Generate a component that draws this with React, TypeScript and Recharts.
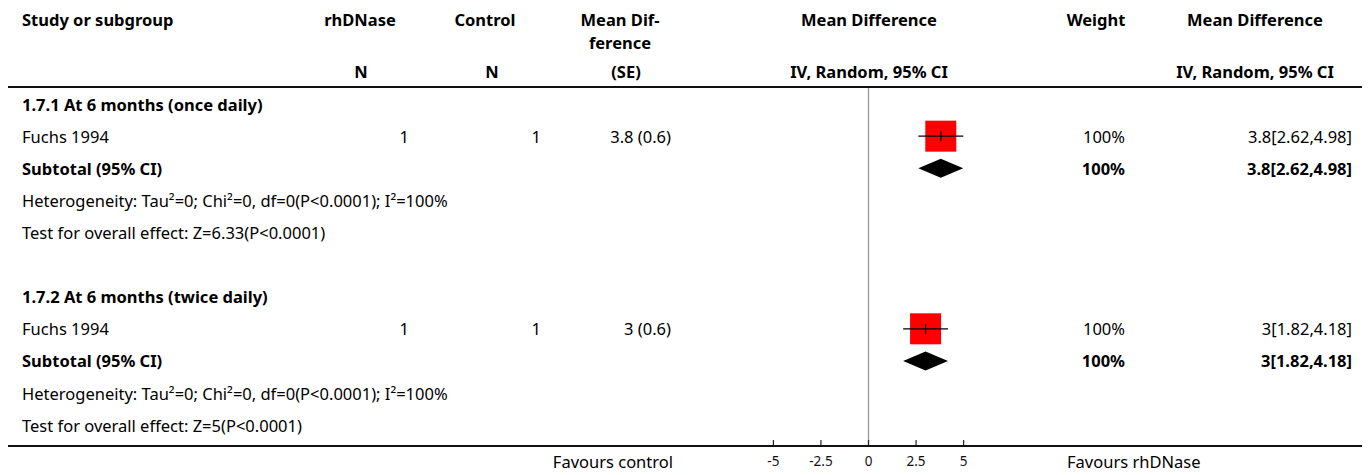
import { ScatterChart, Scatter, XAxis, YAxis, ReferenceLine } from 'recharts'

// forest plot data
const subgroups = ['1.7.1 At 6 months (once daily)', '1.7.2 At 6 months (twice daily)']
const studyNames = ['Fuchs 1994', 'Fuchs 1994']
const nTreatment = [1, 1]
const nControl = [1, 1]
const meanDiff = [3.8, 3]
const stdErr = [0.6, 0.6]
const ciLow = [2.62, 1.82]
const ciHigh = [4.98, 4.18]
const studyWeight = [100, 100]
const subtotalMean = [3.8, 3]
const subtotalLow = [2.62, 1.82]
const subtotalHigh = [4.98, 4.18]
const subtotalWeight = [100, 100]
const heterogeneity = [
  'Heterogeneity: Tau²=0; Chi²=0, df=0(P<0.0001); I²=100%',
  'Heterogeneity: Tau²=0; Chi²=0, df=0(P<0.0001); I²=100%',
]
const overallEffect = ['Test for overall effect: Z=6.33(P<0.0001)', 'Test for overall effect: Z=5(P<0.0001)']
const axisTicks = [-5, -2.5, 0, 2.5, 5]
const axisDomain = [-9.12, 9.12]

const FONT = '"Noto Sans", sans-serif'
const FS = 16.5
const ROWS_PER_GROUP = 6

type RowKind = 'group' | 'study' | 'subtotal' | 'het' | 'test'
interface TableRow {
  x: number
  y: number
  kind: RowKind
  g: number
}

const tableRows: TableRow[] = subgroups.flatMap((_, g) => {
  const base = g * ROWS_PER_GROUP
  const kinds: RowKind[] = ['group', 'study', 'subtotal', 'het', 'test']
  return kinds.map((kind, i) => ({ x: 0, y: base + i, kind, g }))
})

const studyRow = (g: number) => g * ROWS_PER_GROUP + 1
const subtotalRow = (g: number) => g * ROWS_PER_GROUP + 2

const fmtCi = (m: number, lo: number, hi: number) => `${m}[${lo},${hi}]`

function RowText(props: any) {
  const { cy, payload } = props
  const p = payload as TableRow
  const g = p.g
  const base = { fontFamily: FONT, fontSize: FS, fill: '#000', dominantBaseline: 'central' as const }
  if (p.kind === 'group') {
    return (
      <text x={22} y={cy} {...base} fontWeight={700}>
        {subgroups[g]}
      </text>
    )
  }
  if (p.kind === 'study') {
    return (
      <g>
        <text x={22} y={cy} {...base}>{studyNames[g]}</text>
        <text x={409} y={cy} {...base} textAnchor="end">{nTreatment[g]}</text>
        <text x={541} y={cy} {...base} textAnchor="end">{nControl[g]}</text>
        <text x={671} y={cy} {...base} textAnchor="end">{`${meanDiff[g]} (${stdErr[g]})`}</text>
        <text x={1125} y={cy} {...base} textAnchor="end">{`${studyWeight[g]}%`}</text>
        <text x={1352} y={cy} {...base} textAnchor="end">{fmtCi(meanDiff[g], ciLow[g], ciHigh[g])}</text>
      </g>
    )
  }
  if (p.kind === 'subtotal') {
    return (
      <g fontWeight={700}>
        <text x={22} y={cy} {...base}>Subtotal (95% CI)</text>
        <text x={1125} y={cy} {...base} textAnchor="end">{`${subtotalWeight[g]}%`}</text>
        <text x={1352} y={cy} {...base} textAnchor="end">{fmtCi(subtotalMean[g], subtotalLow[g], subtotalHigh[g])}</text>
      </g>
    )
  }
  return (
    <text x={22} y={cy} {...base}>
      {p.kind === 'het' ? heterogeneity[g] : overallEffect[g]}
    </text>
  )
}

function Square(props: any) {
  const { cx, cy } = props
  return <rect x={cx - 15.5} y={cy - 15.5} width={31} height={31} fill="#ff0000" />
}

function MidTick(props: any) {
  const { cx, cy, payload } = props
  if (!payload.mid) return <g />
  return <line x1={cx} x2={cx} y1={cy - 5} y2={cy + 5} stroke="#000" strokeWidth={1.3} />
}

const Empty = () => <g />

function DiamondLine(props: any) {
  const pts = props.points as { x: number; y: number }[]
  if (!pts || pts.length < 3) return <g />
  const [a, m, b] = pts
  const h = 9.5
  return (
    <polygon
      points={`${a.x},${a.y} ${m.x},${m.y - h} ${b.x},${b.y} ${m.x},${m.y + h}`}
      fill="#000"
      stroke="none"
    />
  )
}

function AxisTick(props: any) {
  const { x, y, payload } = props
  return (
    <g>
      <line x1={x} x2={x} y1={y - 6} y2={y} stroke="#222" strokeWidth={1.2} />
      <text x={x} y={y + 15} textAnchor="middle" dominantBaseline="central" fontFamily={FONT} fontSize={13.5} fill="#111">
        {String(payload.value)}
      </text>
    </g>
  )
}

const headStyle: React.CSSProperties = {
  position: 'absolute',
  fontWeight: 700,
  fontSize: FS,
  lineHeight: '20px',
  whiteSpace: 'nowrap',
  color: '#000',
}

function Head({ cx, y, text, left }: { cx?: number; y: number; text: string; left?: number }) {
  if (left !== undefined) {
    return <div style={{ ...headStyle, left, top: y - 10 }}>{text}</div>
  }
  return (
    <div style={{ ...headStyle, left: (cx as number) - 150, width: 300, textAlign: 'center', top: y - 10 }}>{text}</div>
  )
}

export default function App() {
  return (
    <div style={{ position: 'relative', width: 1370, height: 475, fontFamily: FONT, background: '#fff' }}>
      <style>{'body{margin:0}'}</style>
      <ScatterChart width={1370} height={475} margin={{ top: 88, right: 328, bottom: 0, left: 695 }}>
        <XAxis
          type="number"
          dataKey="x"
          domain={axisDomain}
          ticks={axisTicks}
          interval={0}
          height={29}
          tickLine={false}
          tickSize={0}
          tickMargin={0}
          axisLine={{ stroke: '#444', strokeWidth: 2 }}
          tick={<AxisTick />}
        />
        <YAxis type="number" dataKey="y" domain={[-0.5, 10.65]} reversed hide />
        <ReferenceLine x={0} stroke="#999" strokeWidth={1.3} />
        <Scatter data={tableRows} shape={<RowText />} isAnimationActive={false} />
        <Scatter
          data={meanDiff.map((m, g) => ({ x: m, y: studyRow(g) }))}
          shape={<Square />}
          isAnimationActive={false}
        />
        {meanDiff.map((m, g) => (
          <Scatter
            key={`ci-${g}`}
            data={[
              { x: ciLow[g], y: studyRow(g) },
              { x: m, y: studyRow(g), mid: true },
              { x: ciHigh[g], y: studyRow(g) },
            ]}
            line={{ stroke: '#000', strokeWidth: 1.3 }}
            lineType="joint"
            shape={<MidTick />}
            isAnimationActive={false}
          />
        ))}
        {subtotalMean.map((m, g) => (
          <Scatter
            key={`dia-${g}`}
            data={[
              { x: subtotalLow[g], y: subtotalRow(g) },
              { x: m, y: subtotalRow(g) },
              { x: subtotalHigh[g], y: subtotalRow(g) },
            ]}
            line={DiamondLine}
            lineType="joint"
            shape={<Empty />}
            isAnimationActive={false}
          />
        ))}
      </ScatterChart>

      <div style={{ position: 'absolute', left: 0, top: 0, width: 1370, height: 475, pointerEvents: 'none' }}>
        <Head left={22} y={20} text="Study or subgroup" />
        <Head cx={360} y={20} text="rhDNase" />
        <Head cx={361} y={72} text="N" />
        <Head cx={485} y={20} text="Control" />
        <Head cx={492} y={72} text="N" />
        <Head cx={620} y={20} text="Mean Dif-" />
        <Head cx={620} y={43} text="ference" />
        <Head cx={626} y={72} text="(SE)" />
        <Head cx={869} y={20} text="Mean Difference" />
        <Head cx={869} y={72} text="IV, Random, 95% CI" />
        <Head cx={1096} y={20} text="Weight" />
        <Head cx={1255} y={20} text="Mean Difference" />
        <Head cx={1255} y={72} text="IV, Random, 95% CI" />
        <div style={{ position: 'absolute', left: 8, top: 86, width: 1354, height: 2, background: '#111' }} />
        <div style={{ position: 'absolute', left: 8, top: 445, width: 1354, height: 1.5, background: '#111' }} />
        <div
          style={{ position: 'absolute', left: 473, width: 200, textAlign: 'right', top: 452, fontSize: FS, lineHeight: '20px', whiteSpace: 'nowrap' }}
        >
          Favours control
        </div>
        <div style={{ position: 'absolute', left: 1067, top: 452, fontSize: FS, lineHeight: '20px', whiteSpace: 'nowrap' }}>
          Favours rhDNase
        </div>
      </div>
    </div>
  )
}
